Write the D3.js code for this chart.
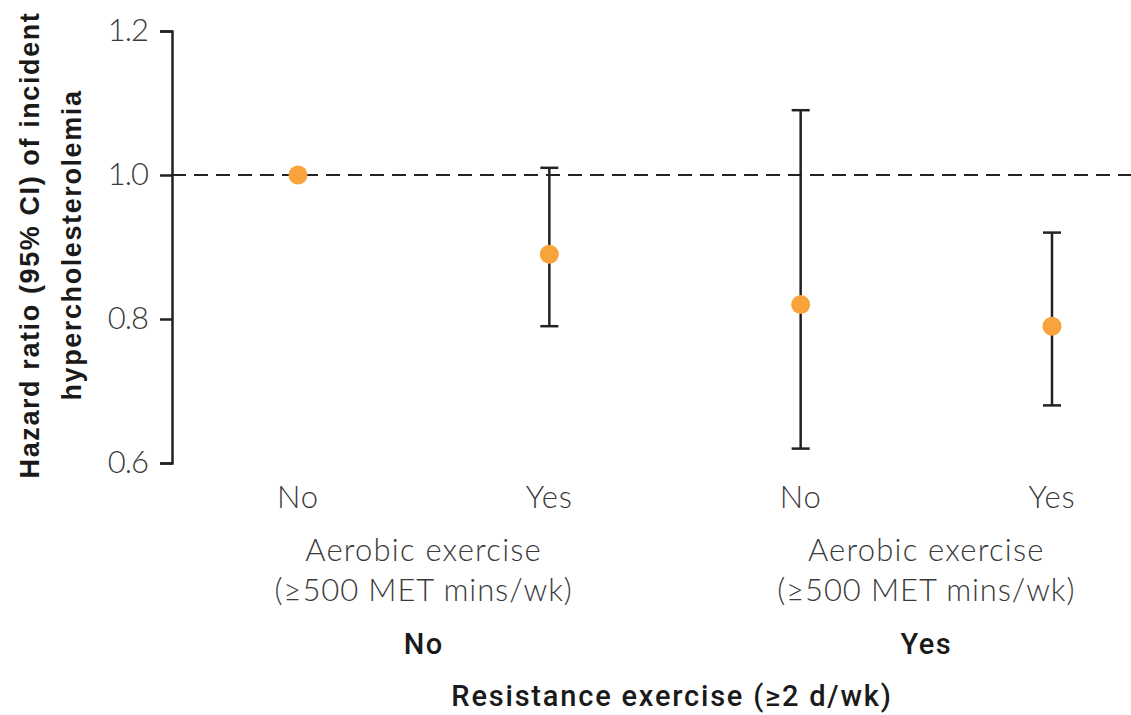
<html>
<head>
<script src="https://cdn.jsdelivr.net/npm/d3@7"></script>
<style>
  body { margin: 0; background: #fff; }
  .light { font-family: Lato, sans-serif; font-weight: 300; fill: #3a3a3a; }
  .bold { font-family: Roboto, sans-serif; font-weight: 500; fill: #1a1a1a; }
</style>
</head>
<body>
<svg width="1131" height="715"></svg>
<script>
// data
var aerobic = ['No', 'Yes', 'No', 'Yes'];
var hr = [1.0, 0.89, 0.82, 0.79];
var lower = [null, 0.79, 0.62, 0.68];
var upper = [null, 1.01, 1.09, 0.92];
var resistance = ['No', 'Yes'];
var yTicks = [0.6, 0.8, 1.0, 1.2];

var svg = d3.select('svg');

var x = d3.scaleLinear().domain([0, 3]).range([298, 1052]);
var y = d3.scaleLinear().domain([0.6, 1.2]).range([463, 31]);

// y axis
var yAxis = svg.append('g')
  .attr('transform', 'translate(172,0)')
  .call(d3.axisLeft(y).tickValues(yTicks).tickFormat(d3.format('.1f')).tickSize(12).tickSizeOuter(12).tickPadding(12));
yAxis.select('.domain').attr('stroke', '#222').attr('stroke-width', 2.5);
yAxis.selectAll('.tick line').attr('stroke', '#222').attr('stroke-width', 2.5);
yAxis.selectAll('.tick text')
  .attr('class', 'light')
  .style('font-size', '31px')
  .style('letter-spacing', '-1px')
  .attr('fill', '#4a5560');

// reference line at 1.0
svg.append('line')
  .attr('x1', 172).attr('x2', 1131)
  .attr('y1', y(1.0)).attr('y2', y(1.0))
  .attr('stroke', '#222').attr('stroke-width', 2.2)
  .attr('stroke-dasharray', '14,8');

// error bars
var idx = d3.range(hr.length).filter(i => lower[i] != null);
var bars = svg.append('g');
bars.selectAll('line.v').data(idx).enter().append('line')
  .attr('x1', i => x(i)).attr('x2', i => x(i))
  .attr('y1', i => y(upper[i])).attr('y2', i => y(lower[i]))
  .attr('stroke', '#222').attr('stroke-width', 2.5);
bars.selectAll('line.t').data(idx).enter().append('line')
  .attr('x1', i => x(i) - 9).attr('x2', i => x(i) + 9)
  .attr('y1', i => y(upper[i])).attr('y2', i => y(upper[i]))
  .attr('stroke', '#222').attr('stroke-width', 2.5);
bars.selectAll('line.b').data(idx).enter().append('line')
  .attr('x1', i => x(i) - 9).attr('x2', i => x(i) + 9)
  .attr('y1', i => y(lower[i])).attr('y2', i => y(lower[i]))
  .attr('stroke', '#222').attr('stroke-width', 2.5);

// points
svg.append('g').selectAll('circle').data(hr).enter().append('circle')
  .attr('cx', (d, i) => x(i)).attr('cy', d => y(d)).attr('r', 9.5)
  .attr('fill', '#F9A33C');

// category labels
svg.append('g').selectAll('text').data(aerobic).enter().append('text')
  .attr('class', 'light')
  .attr('x', (d, i) => x(i)).attr('y', 508)
  .attr('text-anchor', 'middle').style('font-size', '31px').style('letter-spacing', '0.8px')
  .text(d => d);

resistance.forEach(function(r, k) {
  var cx = (x(2 * k) + x(2 * k + 1)) / 2;
  svg.append('text').attr('class', 'light')
    .attr('x', cx).attr('y', 561).attr('text-anchor', 'middle')
    .style('font-size', '31px').style('letter-spacing', '1.2px')
    .text('Aerobic exercise');
  svg.append('text').attr('class', 'light')
    .attr('x', cx).attr('y', 601).attr('text-anchor', 'middle')
    .style('font-size', '31px').style('letter-spacing', '0.9px')
    .text('(≥500 MET mins/wk)');
  svg.append('text').attr('class', 'bold')
    .attr('x', cx).attr('y', 654).attr('text-anchor', 'middle')
    .style('font-size', '29px').style('letter-spacing', '1.5px')
    .text(r);
});

svg.append('text').attr('class', 'bold')
  .attr('x', 672).attr('y', 706).attr('text-anchor', 'middle')
  .style('font-size', '29px').style('letter-spacing', '1.8px')
  .text('Resistance exercise (≥2 d/wk)');

// y title
var yt = svg.append('text')
  .attr('transform', 'translate(0,245) rotate(-90)')
  .attr('text-anchor', 'middle')
  .style('font-family', '"Liberation Sans", Arial, sans-serif')
  .style('font-weight', 'bold').style('font-size', '27px').style('letter-spacing', '1.6px')
  .attr('fill', '#1a1a1a');
yt.append('tspan').attr('x', 0).attr('y', 39).text('Hazard ratio (95% CI) of incident');
yt.append('tspan').attr('x', 0).attr('y', 81).text('hypercholesterolemia');
</script>
</body>
</html>
